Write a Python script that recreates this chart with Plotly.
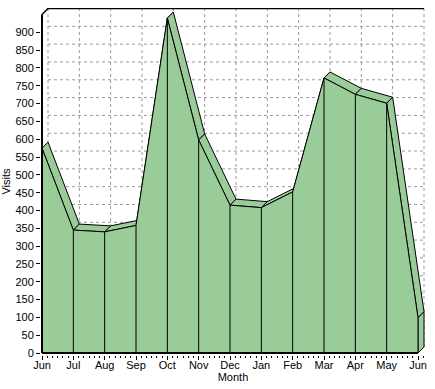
import plotly.graph_objects as go

# ---- data ----
months = ["Jun", "Jul", "Aug", "Sep", "Oct", "Nov", "Dec", "Jan", "Feb", "Mar", "Apr", "May", "Jun"]
visits = [575, 345, 340, 358, 940, 598, 415, 408, 452, 772, 726, 701, 99]
y_ticks = list(range(0, 951, 50))
y_max = 950

# ---- styling / geometry ----
GREEN = "#99CC99"
GRID = "#999999"
FONT = "Liberation Sans, Arial, sans-serif"
SX = 31.33      # px per category
SY = 0.3563     # px per visit
DEPTH = 6       # px depth of 3D effect
dx = DEPTH / SX
dy = DEPTH / SY
n = len(months)
xs = list(range(n))

fig = go.Figure()

def line(x, y, color, width=1, dash="solid"):
    fig.add_trace(go.Scatter(x=x, y=y, mode="lines",
                             line=dict(color=color, width=width, dash=dash),
                             hoverinfo="skip", showlegend=False))

# back wall gridlines
gx, gy = [], []
for v in y_ticks[1:-1]:
    gx += [dx, xs[-1] + dx, None]
    gy += [v + dy, v + dy, None]
for i in xs:
    gx += [i + dx, i + dx, None]
    gy += [dy, y_max + dy, None]
line(gx, gy, GRID, 1, "3px,3px")

# top border and top-left diagonal
line([0, dx, xs[-1] + dx], [y_max, y_max + dy, y_max + dy], "black", 1.5)

# top (depth) faces of the area
for i in range(n - 1):
    x0, x1 = xs[i], xs[i + 1]
    y0, y1 = visits[i], visits[i + 1]
    fig.add_trace(go.Scatter(
        x=[x0, x1, x1 + dx, x0 + dx, x0],
        y=[y0, y1, y1 + dy, y0 + dy, y0],
        mode="lines", fill="toself", fillcolor=GREEN,
        line=dict(color="black", width=1),
        hoverinfo="skip", showlegend=False))

# right side face
xe, ye = xs[-1], visits[-1]
fig.add_trace(go.Scatter(
    x=[xe, xe + dx, xe + dx, xe, xe],
    y=[0, dy, ye + dy, ye, 0],
    mode="lines", fill="toself", fillcolor=GREEN,
    line=dict(color="black", width=1),
    hoverinfo="skip", showlegend=False))

# front area
fig.add_trace(go.Scatter(
    x=xs, y=visits, mode="lines", fill="tozeroy", fillcolor=GREEN,
    line=dict(color="black", width=1),
    hoverinfo="skip", showlegend=False))

# vertical separators at each month
vx, vy = [], []
for i in xs[1:]:
    vx += [i, i, None]
    vy += [0, visits[i], None]
line(vx, vy, "black", 1)

# front axes lines
line([0, 0], [0, y_max], "black", 2)
line([0, xs[-1]], [0, 0], "black", 2)

L, T = 41, 8
x_min = -1 / SX
x_max = xs[-1] + dx + 1 / SX
y_min = -2 / SY
y_top = (353 - T) / SY
W = 435
H = 389
plot_w = (x_max - x_min) * SX
plot_h = (y_top - y_min) * SY

fig.update_layout(
    width=W, height=H,
    margin=dict(l=L, t=T, r=W - L - plot_w, b=H - T - plot_h, pad=0, autoexpand=False),
    plot_bgcolor="white", paper_bgcolor="white",
    font=dict(family=FONT, size=11, color="black"),
    hovermode=False,
    xaxis=dict(range=[x_min, x_max], tickmode="array", tickvals=xs, ticktext=months,
               ticks="outside", ticklen=4, tickcolor="black", showgrid=False,
               zeroline=False, showline=False, automargin=False,
               ticklabelstandoff=-4,
               minor=dict(dtick=1 / 6, tick0=0, ticks="outside", ticklen=2, tickcolor="black"),
               title=dict(text="Month", standoff=0, font=dict(size=11)),
               fixedrange=True),
    yaxis=dict(range=[y_min, y_top], tickmode="array", tickvals=y_ticks[:-1],
               ticks="outside", ticklen=4, tickcolor="black", showgrid=False,
               zeroline=False, showline=False, automargin=False,
               title=dict(text="Visits", standoff=4, font=dict(size=11)),
               fixedrange=True),
)

fig.write_html("out.html", config={"displayModeBar": False, "staticPlot": True},
               post_script="document.body.style.margin='0';")
